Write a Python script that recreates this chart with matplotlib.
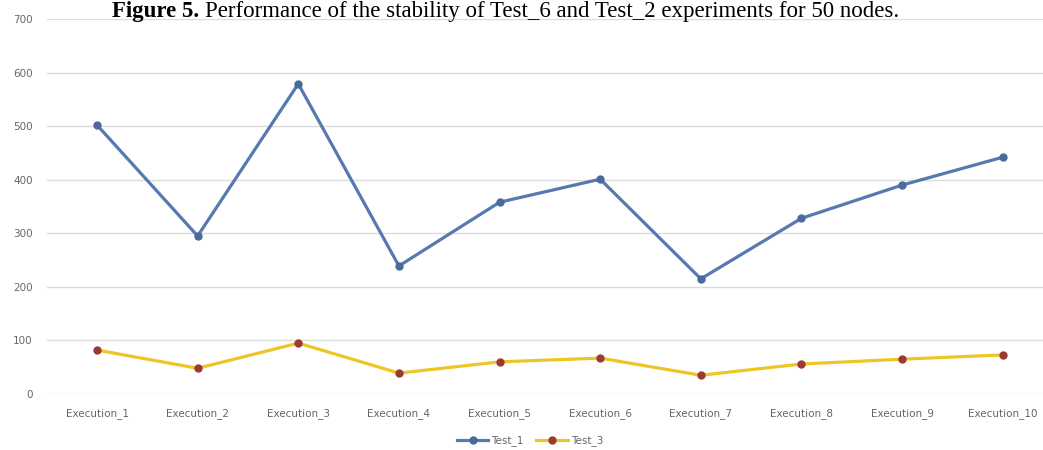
import numpy as np
import matplotlib.pyplot as plt

runs = ['Execution_1', 'Execution_2', 'Execution_3', 'Execution_4', 'Execution_5',
        'Execution_6', 'Execution_7', 'Execution_8', 'Execution_9', 'Execution_10']
test_1 = [502, 295, 579, 239, 358, 401, 215, 328, 390, 442]
test_3 = [82, 48, 95, 39, 60, 67, 35, 56, 65, 73]
y_ticks = [0, 100, 200, 300, 400, 500, 600, 700]

fig = plt.figure(figsize=(10.43, 4.5), dpi=100)
ax = fig.add_axes([46.7 / 1043, 56 / 450, (1043 - 46.7) / 1043, 375 / 450])

x = np.arange(len(runs))
ax.plot(x, test_1, color='#5679B0', lw=2.3, marker='o', markersize=5,
        markerfacecolor='#4A6A9E', markeredgecolor='#4A6A9E', label='Test_1')
ax.plot(x, test_3, color='#EDC626', lw=2.3, marker='o', markersize=5,
        markerfacecolor='#9C3A30', markeredgecolor='#9C3A30', label='Test_3')

ax.set_xlim(-0.5, 9.4)
ax.set_ylim(0, 700)
ax.set_yticks(y_ticks)
ax.set_xticks(x)
ax.set_xticklabels(runs)
ax.grid(axis='y', color='#DCDCDC', lw=1)
ax.set_axisbelow(True)
for s in ax.spines.values():
    s.set_visible(False)
ax.tick_params(length=0, labelsize=7.5, labelcolor='#666666')
ax.tick_params(axis='x', pad=10)
ax.tick_params(axis='y', pad=10)

fig.legend(loc='center', bbox_to_anchor=(530 / 1043, 1 - 441 / 450), ncol=2,
           frameon=False, fontsize=7.5, labelcolor='#666666', handlelength=3,
           columnspacing=1.2, handletextpad=0.3)

# caption: bold label followed by the plain sentence
head = fig.text(112 / 1043, 1 - 17.5 / 450, 'Figure 5. ', ha='left', va='baseline',
                fontsize=16.5, family='Liberation Serif', weight='bold')
fig.text(0, 0, 'Performance of the stability of Test_6 and Test_2 experiments for 50 nodes.',
         fontsize=16.5, family='Liberation Serif', va='baseline', ha='left',
         transform=head.get_transform())
fig.canvas.draw()
bb = head.get_window_extent()
fig.texts[-1].set_position((bb.x1 / fig.bbox.width, head.get_position()[1]))

fig.savefig('out.png', dpi=100)
